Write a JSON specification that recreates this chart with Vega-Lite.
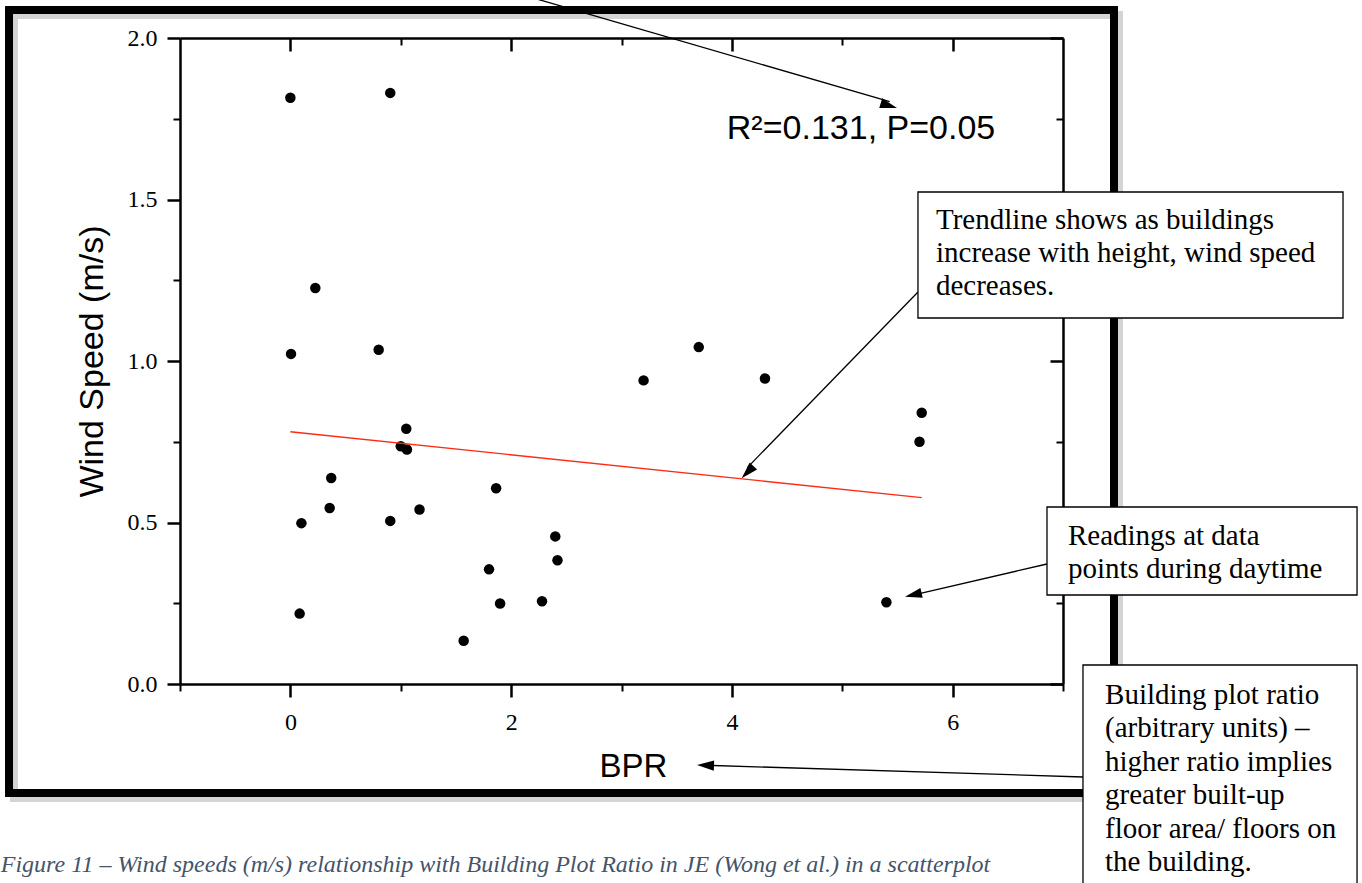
{
  "$schema": "https://vega.github.io/schema/vega-lite/v6.json",
  "width": 883,
  "height": 646,
  "autosize": {"type": "none"},
  "padding": {"left": 180, "top": 38, "right": 299, "bottom": 199},
  "background": "white",
  "config": {"view": {"stroke": null}, "axis": {"grid": false}},
  "data": {"values": [{}]},
  "datasets": {
    "readings": [
      {"BPR": 0.0, "WindSpeed": 1.815},
      {"BPR": 0.905, "WindSpeed": 1.83},
      {"BPR": 0.226, "WindSpeed": 1.226},
      {"BPR": 0.006, "WindSpeed": 1.022},
      {"BPR": 0.8, "WindSpeed": 1.035},
      {"BPR": 3.7, "WindSpeed": 1.043},
      {"BPR": 3.2, "WindSpeed": 0.94},
      {"BPR": 4.3, "WindSpeed": 0.946},
      {"BPR": 5.72, "WindSpeed": 0.84},
      {"BPR": 5.7, "WindSpeed": 0.75},
      {"BPR": 1.05, "WindSpeed": 0.79},
      {"BPR": 1.0, "WindSpeed": 0.736},
      {"BPR": 1.056, "WindSpeed": 0.726},
      {"BPR": 0.37, "WindSpeed": 0.638},
      {"BPR": 0.356, "WindSpeed": 0.545},
      {"BPR": 0.1, "WindSpeed": 0.498},
      {"BPR": 0.905, "WindSpeed": 0.505},
      {"BPR": 1.17, "WindSpeed": 0.54},
      {"BPR": 1.864, "WindSpeed": 0.606},
      {"BPR": 2.4, "WindSpeed": 0.457},
      {"BPR": 2.42, "WindSpeed": 0.383},
      {"BPR": 1.8, "WindSpeed": 0.355},
      {"BPR": 1.9, "WindSpeed": 0.249},
      {"BPR": 2.28, "WindSpeed": 0.256},
      {"BPR": 0.084, "WindSpeed": 0.218},
      {"BPR": 1.57, "WindSpeed": 0.134},
      {"BPR": 5.4, "WindSpeed": 0.253}
    ],
    "trend": [
      {"BPR": 0, "fit": 0.781},
      {"BPR": 5.72, "fit": 0.577}
    ]
  },
  "resolve": {"axis": {"x": "independent", "y": "independent"}},
  "layer": [
    {
      "mark": {"type": "rect", "filled": false, "color": "#b8b8b8", "strokeWidth": 8, "opacity": 0.6},
      "encoding": {
        "x": {"datum": -2.504, "type": "quantitative", "scale": {"domain": [-1, 7], "nice": false, "zero": false},
          "axis": {"orient": "top", "values": [1, 3, 5], "tickSize": -7, "tickWidth": 2, "tickColor": "black", "domain": false, "labels": false, "title": null}},
        "x2": {"datum": 7.507},
        "y": {"datum": 2.0712, "type": "quantitative", "scale": {"domain": [0, 2], "nice": false, "zero": false},
          "axis": {"orient": "right", "values": [0.25, 0.75, 1.25, 1.75], "tickSize": -7, "tickWidth": 2, "tickColor": "black", "domain": false, "labels": false, "title": null}},
        "y2": {"datum": -0.353}
      }
    },
    {
      "mark": {"type": "rect", "filled": false, "color": "black", "strokeWidth": 8},
      "encoding": {
        "x": {"datum": -2.549, "type": "quantitative", "scale": {"domain": [-1, 7], "nice": false, "zero": false},
          "axis": {"orient": "top", "values": [0, 2, 4, 6], "tickSize": -13, "tickWidth": 2.5, "tickColor": "black", "domain": true, "domainColor": "black", "domainWidth": 2.5, "labels": false, "title": null}},
        "x2": {"datum": 7.462},
        "y": {"datum": 2.0867, "type": "quantitative", "scale": {"domain": [0, 2], "nice": false, "zero": false},
          "axis": {"orient": "right", "values": [0, 0.5, 1, 1.5, 2], "tickSize": -13, "tickWidth": 2.5, "tickColor": "black", "domain": true, "domainColor": "black", "domainWidth": 2.5, "labels": false, "title": null}},
        "y2": {"datum": -0.3375}
      }
    },
    {
      "data": {"name": "readings"},
      "mark": {"type": "point", "shape": "circle", "filled": true, "color": "black", "opacity": 1, "size": 110},
      "encoding": {
        "x": {"field": "BPR", "type": "quantitative", "scale": {"domain": [-1, 7], "nice": false, "zero": false},
          "axis": {"orient": "bottom", "values": [0, 2, 4, 6], "format": "d", "tickSize": 13, "tickWidth": 2.5, "tickColor": "black", "domainColor": "black", "domainWidth": 2.5,
            "labelFont": "Liberation Serif", "labelFontSize": 24, "labelColor": "black", "labelPadding": 32, "labelBaseline": "alphabetic",
            "title": "BPR", "titleFont": "Liberation Sans", "titleFontSize": 33, "titleFontWeight": "normal", "titleColor": "black",
            "titleX": 453, "titleY": 92, "titleBaseline": "alphabetic", "titleAlign": "center"}},
        "y": {"field": "WindSpeed", "type": "quantitative", "scale": {"domain": [0, 2], "nice": false, "zero": false},
          "axis": {"orient": "left", "values": [0, 0.5, 1, 1.5, 2], "format": ".1f", "tickSize": 13, "tickWidth": 2.5, "tickColor": "black", "domainColor": "black", "domainWidth": 2.5,
            "labelFont": "Liberation Serif", "labelFontSize": 24, "labelColor": "black", "labelPadding": 10, "labelBaseline": "middle", "labelAlign": "right",
            "title": "Wind Speed (m/s)", "titleFont": "Liberation Sans", "titleFontSize": 34, "titleFontWeight": "normal", "titleColor": "black",
            "titleX": -78, "titleY": 323, "titleAngle": 270, "titleBaseline": "alphabetic", "titleAlign": "center"}}
      }
    },
    {
      "data": {"name": "trend"},
      "mark": {"type": "line", "color": "#ff2a14", "strokeWidth": 1.4},
      "encoding": {
        "x": {"field": "BPR", "type": "quantitative", "scale": {"domain": [-1, 7], "nice": false, "zero": false},
          "axis": {"orient": "bottom", "values": [-1, 1, 3, 5, 7], "tickSize": 7, "tickWidth": 2, "tickColor": "black", "domain": false, "labels": false, "title": null}},
        "y": {"field": "fit", "type": "quantitative", "scale": {"domain": [0, 2], "nice": false, "zero": false},
          "axis": {"orient": "left", "values": [0.25, 0.75, 1.25, 1.75], "tickSize": 7, "tickWidth": 2, "tickColor": "black", "domain": false, "labels": false, "title": null}}
      }
    },
    {
      "mark": {"type": "rule", "color": "black", "strokeWidth": 1.3},
      "encoding": {
        "x": {"datum": 2.1076, "type": "quantitative", "scale": {"domain": [-1, 7], "nice": false, "zero": false}, "axis": null},
        "x2": {"datum": 5.43},
        "y": {"datum": 2.1331, "type": "quantitative", "scale": {"domain": [0, 2], "nice": false, "zero": false}, "axis": null},
        "y2": {"datum": 1.803}
      }
    },
    {
      "mark": {"type": "point", "shape": "M0,0L-2,-0.6L-2,0.6Z", "filled": true, "color": "black", "opacity": 1, "size": 289, "angle": 16.8},
      "encoding": {
        "x": {"datum": 5.496, "type": "quantitative", "scale": {"domain": [-1, 7], "nice": false, "zero": false}, "axis": null},
        "y": {"datum": 1.7833, "type": "quantitative", "scale": {"domain": [0, 2], "nice": false, "zero": false}, "axis": null}
      }
    },
    {
      "mark": {"type": "rule", "color": "black", "strokeWidth": 1.3},
      "encoding": {
        "x": {"datum": 5.6863, "type": "quantitative", "scale": {"domain": [-1, 7], "nice": false, "zero": false}, "axis": null},
        "x2": {"datum": 4.14},
        "y": {"datum": 1.2136, "type": "quantitative", "scale": {"domain": [0, 2], "nice": false, "zero": false}, "axis": null},
        "y2": {"datum": 0.67}
      }
    },
    {
      "mark": {"type": "point", "shape": "M0,0L-2,-0.6L-2,0.6Z", "filled": true, "color": "black", "opacity": 1, "size": 289, "angle": 133.4},
      "encoding": {
        "x": {"datum": 4.089, "type": "quantitative", "scale": {"domain": [-1, 7], "nice": false, "zero": false}, "axis": null},
        "y": {"datum": 0.6368, "type": "quantitative", "scale": {"domain": [0, 2], "nice": false, "zero": false}, "axis": null}
      }
    },
    {
      "mark": {"type": "rule", "color": "black", "strokeWidth": 1.3},
      "encoding": {
        "x": {"datum": 6.855, "type": "quantitative", "scale": {"domain": [-1, 7], "nice": false, "zero": false}, "axis": null},
        "x2": {"datum": 5.64},
        "y": {"datum": 0.3715, "type": "quantitative", "scale": {"domain": [0, 2], "nice": false, "zero": false}, "axis": null},
        "y2": {"datum": 0.2755}
      }
    },
    {
      "mark": {"type": "point", "shape": "M0,0L-2,-0.6L-2,0.6Z", "filled": true, "color": "black", "opacity": 1, "size": 289, "angle": 167.0},
      "encoding": {
        "x": {"datum": 5.5685, "type": "quantitative", "scale": {"domain": [-1, 7], "nice": false, "zero": false}, "axis": null},
        "y": {"datum": 0.2703, "type": "quantitative", "scale": {"domain": [0, 2], "nice": false, "zero": false}, "axis": null}
      }
    },
    {
      "mark": {"type": "rule", "color": "black", "strokeWidth": 1.3},
      "encoding": {
        "x": {"datum": 7.1812, "type": "quantitative", "scale": {"domain": [-1, 7], "nice": false, "zero": false}, "axis": null},
        "x2": {"datum": 3.76},
        "y": {"datum": -0.2879, "type": "quantitative", "scale": {"domain": [0, 2], "nice": false, "zero": false}, "axis": null},
        "y2": {"datum": -0.2515}
      }
    },
    {
      "mark": {"type": "point", "shape": "M0,0L-2,-0.6L-2,0.6Z", "filled": true, "color": "black", "opacity": 1, "size": 289, "angle": 181.8},
      "encoding": {
        "x": {"datum": 3.684, "type": "quantitative", "scale": {"domain": [-1, 7], "nice": false, "zero": false}, "axis": null},
        "y": {"datum": -0.2508, "type": "quantitative", "scale": {"domain": [0, 2], "nice": false, "zero": false}, "axis": null}
      }
    },
    {
      "mark": {"type": "rect", "fill": "white", "stroke": "black", "strokeWidth": 1.3},
      "encoding": {
        "x": {"datum": 5.686, "type": "quantitative", "scale": {"domain": [-1, 7], "nice": false, "zero": false}, "axis": null},
        "x2": {"datum": 9.537},
        "y": {"datum": 1.5232, "type": "quantitative", "scale": {"domain": [0, 2], "nice": false, "zero": false}, "axis": null},
        "y2": {"datum": 1.1331}
      }
    },
    {
      "mark": {"type": "rect", "fill": "white", "stroke": "black", "strokeWidth": 1.3},
      "encoding": {
        "x": {"datum": 6.855, "type": "quantitative", "scale": {"domain": [-1, 7], "nice": false, "zero": false}, "axis": null},
        "x2": {"datum": 9.664},
        "y": {"datum": 0.548, "type": "quantitative", "scale": {"domain": [0, 2], "nice": false, "zero": false}, "axis": null},
        "y2": {"datum": 0.2755}
      }
    },
    {
      "mark": {"type": "rect", "fill": "white", "stroke": "black", "strokeWidth": 1.3},
      "encoding": {
        "x": {"datum": 7.181, "type": "quantitative", "scale": {"domain": [-1, 7], "nice": false, "zero": false}, "axis": null},
        "x2": {"datum": 9.664},
        "y": {"datum": 0.0588, "type": "quantitative", "scale": {"domain": [0, 2], "nice": false, "zero": false}, "axis": null},
        "y2": {"datum": -0.69}
      }
    },
    {
      "mark": {"type": "text", "font": "Liberation Sans", "fontSize": 34, "color": "black", "align": "center", "baseline": "middle"},
      "encoding": {
        "x": {"datum": 5.17, "type": "quantitative", "scale": {"domain": [-1, 7], "nice": false, "zero": false}, "axis": null},
        "y": {"datum": 1.7183, "type": "quantitative", "scale": {"domain": [0, 2], "nice": false, "zero": false}, "axis": null},
        "text": {"value": "R²=0.131, P=0.05"}
      }
    },
    {
      "mark": {"type": "text", "font": "Liberation Serif", "fontSize": 29, "color": "black", "align": "left", "baseline": "middle", "lineBreak": "\n", "lineHeight": 33},
      "encoding": {
        "x": {"datum": 5.849, "type": "quantitative", "scale": {"domain": [-1, 7], "nice": false, "zero": false}, "axis": null},
        "y": {"datum": 1.4365, "type": "quantitative", "scale": {"domain": [0, 2], "nice": false, "zero": false}, "axis": null},
        "text": {"value": "Trendline shows as buildings\nincrease with height, wind speed\ndecreases."}
      }
    },
    {
      "mark": {"type": "text", "font": "Liberation Serif", "fontSize": 29, "color": "black", "align": "left", "baseline": "middle", "lineBreak": "\n", "lineHeight": 33},
      "encoding": {
        "x": {"datum": 7.045, "type": "quantitative", "scale": {"domain": [-1, 7], "nice": false, "zero": false}, "axis": null},
        "y": {"datum": 0.4582, "type": "quantitative", "scale": {"domain": [0, 2], "nice": false, "zero": false}, "axis": null},
        "text": {"value": "Readings at data\npoints during daytime"}
      }
    },
    {
      "mark": {"type": "text", "font": "Liberation Serif", "fontSize": 29, "color": "black", "align": "left", "baseline": "middle", "lineBreak": "\n", "lineHeight": 33.4},
      "encoding": {
        "x": {"datum": 7.381, "type": "quantitative", "scale": {"domain": [-1, 7], "nice": false, "zero": false}, "axis": null},
        "y": {"datum": -0.0341, "type": "quantitative", "scale": {"domain": [0, 2], "nice": false, "zero": false}, "axis": null},
        "text": {"value": "Building plot ratio\n(arbitrary units) –\nhigher ratio implies\ngreater built-up\nfloor area/ floors on\nthe building."}
      }
    },
    {
      "mark": {"type": "text", "font": "Liberation Serif", "fontSize": 24, "fontStyle": "italic", "color": "#44546A", "align": "left", "baseline": "alphabetic"},
      "encoding": {
        "x": {"datum": -2.624, "type": "quantitative", "scale": {"domain": [-1, 7], "nice": false, "zero": false}, "axis": null},
        "y": {"datum": -0.582, "type": "quantitative", "scale": {"domain": [0, 2], "nice": false, "zero": false}, "axis": null},
        "text": {"value": "Figure 11 – Wind speeds (m/s) relationship with Building Plot Ratio in JE (Wong et al.) in a scatterplot"}
      }
    }
  ]
}
